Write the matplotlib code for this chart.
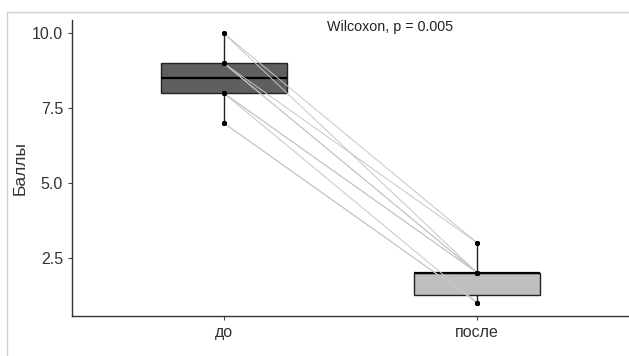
import matplotlib
matplotlib.use("Agg")
import matplotlib.pyplot as plt
from matplotlib.lines import Line2D

# paired scores
groups = ["до", "после"]
before = [10, 10, 9, 9, 9, 8, 8, 8, 7, 7]
after = [3, 2, 3, 2, 2, 2, 2, 1, 1, 1]
box_colors = ["#5f5f5f", "#bebebe"]
yticks = [2.5, 5.0, 7.5, 10.0]
label = "Wilcoxon, p = 0.005"

plt.rcParams['font.family'] = ['Liberation Sans', 'DejaVu Sans']

fig = plt.figure(figsize=(6.29, 3.56), dpi=100)
ax = fig.add_axes([72 / 629, 40 / 356, 557 / 629, 296 / 356])

# boxes
bp = ax.boxplot([before, after], positions=[1, 2], widths=0.5, patch_artist=True,
                showfliers=False, whis=1.5, zorder=1,
                medianprops=dict(color="black", linewidth=1.6),
                whiskerprops=dict(color="#222222", linewidth=1.0),
                capprops=dict(linewidth=0),
                boxprops=dict(edgecolor="#222222", linewidth=1.0))
for patch, c in zip(bp["boxes"], box_colors):
    patch.set_facecolor(c)

# paired lines
for b, a in zip(before, after):
    ax.plot([1, 2], [b, a], color="#c6c6c6", linewidth=0.7, zorder=2)

# points
ax.scatter([1] * len(before), before, s=7, color="black", zorder=3)
ax.scatter([2] * len(after), after, s=7, color="black", zorder=3)

ax.text(1.655, 10.2, label, ha="center", va="center", fontsize=10.3, color="#222222")

ax.set_xlim(0.4, 2.6)
ax.set_ylim(0.55, 10.45)
ax.set_xticks([1, 2])
ax.set_xticklabels(groups)
ax.set_yticks(yticks)
ax.set_yticklabels([f"{v:.1f}" for v in yticks])
ax.set_ylabel("Баллы", fontsize=12.5, color="#333333", labelpad=3)
ax.tick_params(labelsize=11.5, colors="#444444", length=3, width=0.8)
for t in ax.get_xticklabels() + ax.get_yticklabels():
    t.set_color("#333333")
ax.spines["top"].set_visible(False)
ax.spines["right"].set_visible(False)
for s in ["left", "bottom"]:
    ax.spines[s].set_color("#333333")
    ax.spines[s].set_linewidth(1.0)

# light screenshot frame at top and left
fig.add_artist(Line2D([7 / 629, 1], [1 - 12 / 356, 1 - 12 / 356], color="#d0d0d0", linewidth=1.0))
fig.add_artist(Line2D([7 / 629, 7 / 629], [0, 1 - 12 / 356], color="#d0d0d0", linewidth=1.0))

fig.savefig("out.png", dpi=100)
